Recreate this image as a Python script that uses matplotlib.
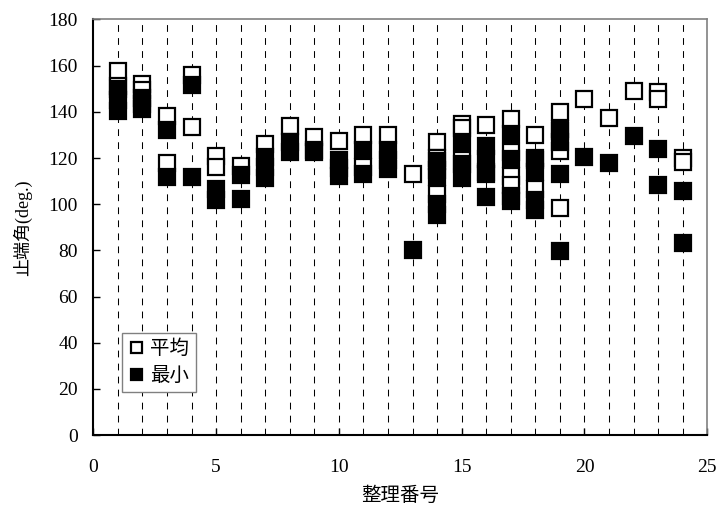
import matplotlib
matplotlib.use('Agg')
import matplotlib.pyplot as plt

plt.rcParams['font.family'] = ['Liberation Serif', 'Noto Sans CJK JP']

# 整理番号ごとの止端角 (平均)
avg_no = [1, 1, 2, 2, 3, 3, 4, 4, 5, 5, 6, 7, 8, 9, 10, 11, 11, 12, 13,
          14, 14, 14, 15, 15, 15, 16, 16, 17, 17, 17, 17, 18, 18, 18,
          19, 19, 19, 19, 20, 21, 22, 23, 23, 24, 24]
avg_val = [157.7, 151.2, 152.2, 149.6, 138.2, 117.7, 155.8, 133.4, 120.7, 116.2,
           116.4, 126.2, 133.9, 129.0, 127.2, 129.8, 116.1, 130.1, 113.2,
           126.9, 120.0, 104.5, 134.6, 133.1, 119.0, 134.1, 112.9,
           137.0, 122.7, 112.3, 108.4, 129.8, 119.9, 106.5,
           139.9, 132.5, 123.2, 98.3, 145.7, 137.4, 149.2, 148.8, 145.4, 120.0, 118.4]

# 整理番号ごとの止端角 (最小)
min_no = [1, 1, 1, 2, 2, 2, 3, 3, 4, 4, 5, 5, 6, 6, 7, 7, 7, 8, 8, 9, 9,
          10, 10, 10, 11, 11, 12, 12, 12, 13,
          14, 14, 14, 14, 14, 15, 15, 15, 16, 16, 16, 16,
          17, 17, 17, 17, 18, 18, 18, 18, 19, 19, 19, 19,
          20, 21, 22, 23, 23, 24, 24]
min_val = [149.7, 145.0, 140.5, 146.0, 143.5, 141.2, 132.0, 111.7, 151.5, 111.8,
           106.7, 101.8, 112.5, 102.4, 120.4, 116.0, 111.2, 126.9, 122.7, 123.5, 122.7,
           119.0, 115.5, 112.3, 123.6, 113.0, 123.6, 119.0, 115.2, 80.3,
           118.8, 115.0, 111.9, 100.2, 95.3, 126.9, 117.5, 111.5,
           125.0, 119.5, 114.0, 103.1,
           130.5, 119.7, 103.5, 101.4, 119.0, 113.9, 101.6, 97.5,
           131.8, 127.1, 113.1, 79.7,
           120.4, 117.8, 129.5, 123.7, 108.1, 105.5, 83.3]

fig = plt.figure(figsize=(7.18, 5.13), dpi=100)
ax = fig.add_axes([0.13, 0.152, 0.855, 0.81])

ax.vlines(range(1, 25), 0, 180, colors='black', linestyles=(0, (6.5, 6)), lw=0.75, zorder=1)

ax.plot(avg_no, avg_val, ls='none', marker='s', ms=11, mew=1.6, mfc='white', mec='black',
        label='平均', zorder=3)
ax.plot(min_no, min_val, ls='none', marker='s', ms=11, mew=1.6, mfc='black', mec='black',
        label='最小', zorder=4)

ax.set_xlim(0, 25)
ax.set_ylim(0, 180)
ax.set_xticks(range(0, 26, 5))
ax.set_yticks(range(0, 181, 20))
ax.tick_params(axis='both', direction='in', labelsize=14, length=5, width=1)
ax.tick_params(axis='x', pad=17)
ax.tick_params(axis='y', pad=11)

for s in ['left', 'bottom']:
    ax.spines[s].set_linewidth(1.5)
for s in ['top', 'right']:
    ax.spines[s].set_color('#808080')
    ax.spines[s].set_linewidth(1.2)

ax.set_xlabel('整理番号', fontsize=14, labelpad=8)
ax.set_ylabel('止端角(deg.)', fontsize=13, labelpad=12)

leg = ax.legend(loc='lower left', bbox_to_anchor=(0.046, 0.104), borderaxespad=0,
                fontsize=14, markerscale=0.72, handlelength=0.8, handletextpad=0.3,
                labelspacing=0.45, borderpad=0.35, fancybox=False, framealpha=1,
                edgecolor='#808080')
leg.get_frame().set_linewidth(1.0)

fig.savefig('out.png', dpi=100)
